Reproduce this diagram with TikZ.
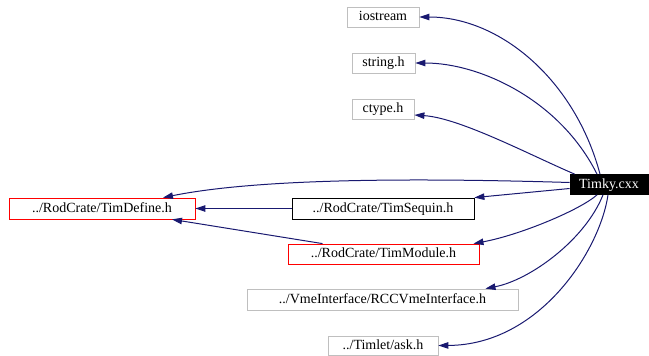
\documentclass[tikz,border=0pt]{standalone}
\usepackage{fontspec}
\setmainfont{Liberation Serif}
\usetikzlibrary{arrows.meta}
\definecolor{edgeblue}{HTML}{191970}
\definecolor{boxgray}{HTML}{BFBFBF}
\tikzset{
  box/.style={draw=#1, line width=0.8pt, inner sep=0pt, font=\fontsize{14pt}{16pt}\selectfont, text height=10pt, text depth=3pt, fill=white},
  dep/.style={draw=edgeblue, line width=1pt, -{Triangle[length=10pt,width=6.5pt]}},
}
\begin{document}
\begin{tikzpicture}[x=1pt,y=-1pt]
\useasboundingbox (0,0) rectangle (649,356);
\node[box=boxgray, minimum width=72pt, minimum height=20pt] (ios) at (383,17) {iostream};
\node[box=boxgray, minimum width=63pt, minimum height=20pt] (str) at (383.5,63) {string.h};
\node[box=boxgray, minimum width=62pt, minimum height=20pt] (ctp) at (383,109) {ctype.h};
\node[box=black, fill=black, text=white, minimum width=78pt, minimum height=20pt] (timky) at (609,184.5) {Timky.cxx};
\node[box=black, minimum width=182pt, minimum height=21pt] (tseq) at (383,208.5) {../RodCrate/TimSequin.h};
\node[box=red, minimum width=191pt, minimum height=20pt] (tmod) at (383.5,254) {../RodCrate/TimModule.h};
\node[box=red, minimum width=186pt, minimum height=21pt] (tdef) at (102,208.5) {../RodCrate/TimDefine.h};
\node[box=boxgray, minimum width=271pt, minimum height=21pt] (rcc) at (382.5,299.5) {../VmeInterface/RCCVmeInterface.h};
\node[box=boxgray, minimum width=110pt, minimum height=19pt] (ask) at (383,345.5) {../Timlet/ask.h};

\draw[dep] ([xshift=-9pt]timky.north) .. controls (575,80) and (500,17) .. (ios.east);
\draw[dep] ([xshift=-12pt]timky.north) .. controls (560,100) and (480,63) .. (str.east);
\draw[dep] ([xshift=5pt]timky.north west) .. controls (530,155) and (460,118) .. ([yshift=-6pt]ctp.east);
\draw[dep] ([yshift=2pt]timky.west) .. controls (420,178) and (260,178) .. ([xshift=61pt]tdef.north);
\draw[dep] ([yshift=-4pt]timky.west) -- (tseq.north east);
\draw[dep] (tseq.west) -- (tdef.east);
\draw[dep] ([xshift=-61pt]tmod.north) -- ([xshift=70pt]tdef.south);
\draw[dep] ([xshift=-12pt]timky.south) .. controls (580,210) and (520,235) .. ([xshift=90pt]tmod.north);
\draw[dep] ([xshift=-6pt]timky.south) .. controls (585,240) and (530,280) .. ([xshift=103pt]rcc.north);
\draw[dep] ([xshift=-1pt]timky.south) .. controls (600,250) and (540,345) .. (ask.east);
\end{tikzpicture}
\end{document}
